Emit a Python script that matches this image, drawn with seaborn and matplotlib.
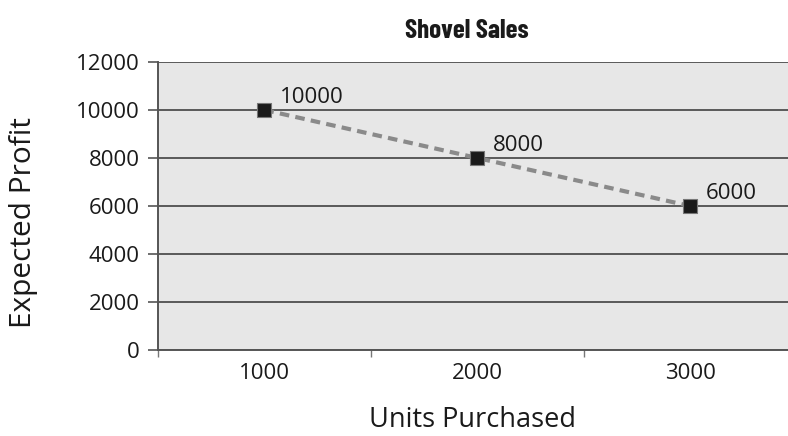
import matplotlib
matplotlib.use("Agg")
import matplotlib.pyplot as plt
import seaborn as sns
import pandas as pd
from matplotlib.ticker import FixedLocator

units = ["1000", "2000", "3000"]
profit = [10000, 8000, 6000]
y_ticks = [0, 2000, 4000, 6000, 8000, 10000, 12000]

sns.set_theme(style="white")
plt.rcParams['font.family'] = ['Open Sans', 'DejaVu Sans']

df = pd.DataFrame({"Units Purchased": units, "Expected Profit": profit})

fig = plt.figure(figsize=(7.88, 4.36), dpi=100)
ax = fig.add_axes([0.2005, 0.197, 0.7995, 0.661])
ax.set_facecolor("#e7e7e7")

sns.lineplot(data=df, x="Units Purchased", y="Expected Profit", ax=ax,
             color="#8a8a8a", linewidth=3, dashes=False, sort=False, zorder=3)
ax.lines[0].set_linestyle((0, (2.3, 1.5)))
sns.scatterplot(data=df, x="Units Purchased", y="Expected Profit", ax=ax,
                marker="s", s=110, color="#1a1a1a", edgecolor="#777777",
                linewidth=0.8, zorder=4)

for i, v in enumerate(profit):
    ax.annotate(f"{v}", (i, v), xytext=(11, 9), textcoords="offset points",
                fontsize=16, color="#1a1a1a", ha="left", va="center")

ax.set_xlim(-0.5, 2.46)
ax.set_ylim(0, 12000)
ax.set_yticks(y_ticks)
ax.set_yticklabels([str(t) for t in y_ticks])
for t in y_ticks:
    ax.axhline(t, color="#5a5a5a", linewidth=1.4, zorder=1)

ax.xaxis.set_minor_locator(FixedLocator([-0.5, 0.5, 1.5]))
ax.tick_params(axis="x", which="major", length=0, labelsize=16, pad=9, labelcolor="#1a1a1a")
ax.tick_params(axis="x", which="minor", length=5, width=1, color="#777777", bottom=True)
ax.tick_params(axis="y", which="major", length=7, width=1.2, color="#555555",
               labelsize=16, pad=6, left=True, labelcolor="#1a1a1a")

for s in ["top", "right"]:
    ax.spines[s].set_visible(False)
ax.spines["left"].set_color("#555555")
ax.spines["left"].set_linewidth(1.4)
ax.spines["bottom"].set_color("#555555")
ax.spines["bottom"].set_linewidth(1.4)

ax.set_xlabel("Units Purchased", fontsize=19.5, color="#1a1a1a", labelpad=16)
ax.set_ylabel("Expected Profit", fontsize=21.5, color="#1a1a1a")
ax.yaxis.set_label_coords(-0.190, 0.444)
ax.set_title("Shovel Sales", fontsize=19.5, fontweight="bold", color="#1a1a1a",
             pad=17, family=["Barlow Condensed", "DejaVu Sans"], x=0.49)

fig.savefig("out.png", dpi=100)
